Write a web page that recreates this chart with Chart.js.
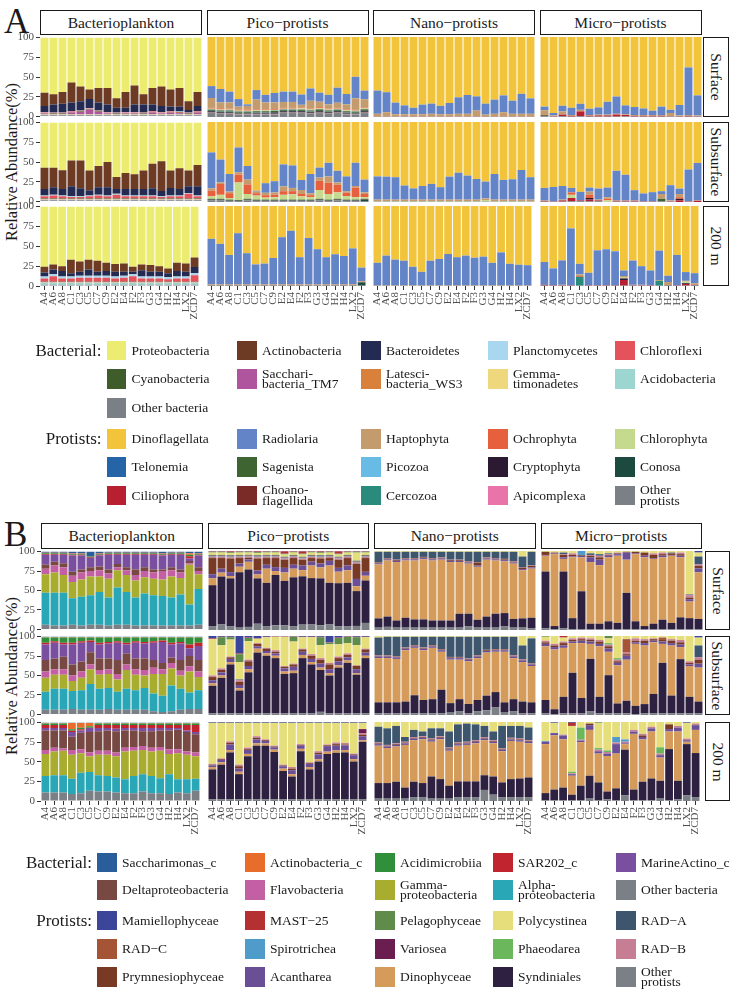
<!DOCTYPE html>
<html>
<head>
<meta charset="utf-8">
<script src="https://cdn.jsdelivr.net/npm/chart.js@4.4.1/dist/chart.umd.min.js"></script>
<style>
  body { margin: 0; background: #fff; }
  #fig { position: relative; width: 731px; height: 991px; overflow: hidden;
         font-family: "Liberation Serif", "DejaVu Serif", serif; color: #1a1a1a; }
  .strip { position: absolute; box-sizing: border-box; border: 1.6px solid #1a1a1a; background: #fff;
           display: flex; align-items: center; justify-content: center; font-size: 15.5px; white-space: nowrap; }
  .strip.r span { display: inline-block; transform: rotate(90deg); }
  .tag { position: absolute; font-size: 35px; line-height: 1; }
  .ytitle { position: absolute; font-size: 16.5px; white-space: nowrap; transform: translate(-50%, -50%) rotate(-90deg); }
  .sw { position: absolute; width: 19.5px; height: 19.5px; }
  .lab { position: absolute; height: 30px; display: flex; align-items: center; font-size: 13.5px; white-space: pre; }
  .lab.two { line-height: 10.5px; }
  .gtitle { position: absolute; height: 30px; display: flex; align-items: center; justify-content: flex-end; font-size: 17px; }
</style>
</head>
<body>
<div id="fig"></div>
<script>
const samples = ['A4','A6','A8','C1','C3','C5','C7','C9','E2','E4','F2','F3','G3','G4','H2','H4','LX2','ZCD7'];
const stripCols = ['Bacterioplankton', 'Pico\u2212protists', 'Nano\u2212protists', 'Micro\u2212protists'];
const stripRows = ['Surface', 'Subsurface', '200 m'];
const yTicks = [0, 25, 50, 75, 100];

// ---------- Panel A : phylum level ----------
const orderABac = ['Proteobacteria','Actinobacteria','Bacteroidetes','Planctomycetes','Chloroflexi','Cyanobacteria',
  'Saccharibacteria_TM7','Latescibacteria_WS3','Gemmatimonadetes','Acidobacteria','Other bacteria'];
const orderAPro = ['Dinoflagellata','Radiolaria','Haptophyta','Ochrophyta','Chlorophyta','Telonemia','Sagenista',
  'Picozoa','Cryptophyta','Conosa','Ciliophora','Choanoflagellida','Cercozoa','Apicomplexa','Other protists'];

const aBacSurface = {
  'Proteobacteria':       [70,72,69,57,62,66,64,64,77,69,61,72,64,62,66,64,81,69],
  'Actinobacteria':       [17,13,15,25.5,19,12,18.5,21,12,20,24,13,21,25,21.5,24,11,18],
  'Bacteroidetes':        [7.5,10,11,11,11.5,11.5,10,9.5,6,5.5,9.5,10,8.5,7.5,6,6,3,6.5],
  'Planctomycetes':       [0.5,0.5,0.5,0.5,0.5,0.5,0.5,0.5,0.5,0.5,0.5,0.5,0.5,0.5,0.5,0.5,0.5,0.5],
  'Chloroflexi':          [1,1,1,1,1,1,1,1,1,1,1,1,1,1,1,1,1,1],
  'Cyanobacteria':        [0.5,0.5,0.5,0.5,0.5,0.5,0.5,0.5,0.5,0.5,0.5,0.5,0.5,0.5,0.5,0.5,0.5,0.5],
  'Saccharibacteria_TM7': [1,0.5,0.5,2,3,6,3,1,0.5,1,1,0.5,2,1,2,1.5,0.5,2],
  'Latescibacteria_WS3':  [0.3,0.3,0.3,0.3,0.3,0.3,0.3,0.3,0.3,0.3,0.3,0.3,0.3,0.3,0.3,0.3,0.3,0.3],
  'Gemmatimonadetes':     [0.3,0.3,0.3,0.3,0.3,0.3,0.3,0.3,0.3,0.3,0.3,0.3,0.3,0.3,0.3,0.3,0.3,0.3],
  'Acidobacteria':        [0.5,0.5,0.5,0.5,0.5,0.5,0.5,0.5,0.5,0.5,0.5,0.5,0.5,0.5,0.5,0.5,0.5,0.5],
  'Other bacteria':       [1.5,1.5,1.5,1.5,1.5,1.5,1.5,1.5,1.5,1.5,1.5,1.5,1.5,1.5,1.5,1.5,1.5,1.5]
};
const aBacSubsurface = {
  'Proteobacteria':       [57.5,57.5,60.5,48,48,61,55,50,69,64,65.5,61,52,49,61,58,61,54],
  'Actinobacteria':       [27,24.5,24,33,35,25,27,32,15.5,20.5,19,23.5,31,38,22,26.5,20,27],
  'Bacteroidetes':        [8,9.5,8,12.5,10,6.5,9.5,10.5,6,8,8,8,9,6.5,9.5,8,8.5,11.5],
  'Planctomycetes':       [1,1,1,1,1,1,1,1,1,1,1,1,1,1,1,1,1,1],
  'Chloroflexi':          [3,4,3,2,2,3,4,3,5,3,3,3,3,2,3,3,6,3],
  'Cyanobacteria':        [0.5,0.5,0.5,0.5,0.5,0.5,0.5,0.5,0.5,0.5,0.5,0.5,0.5,0.5,0.5,0.5,0.5,0.5],
  'Saccharibacteria_TM7': [0.5,0.5,0.5,0.5,0.5,0.5,0.5,0.5,0.5,0.5,0.5,0.5,0.5,0.5,0.5,0.5,0.5,0.5],
  'Latescibacteria_WS3':  [0.3,0.3,0.3,0.3,0.3,0.3,0.3,0.3,0.3,0.3,0.3,0.3,0.3,0.3,0.3,0.3,0.3,0.3],
  'Gemmatimonadetes':     [0.3,0.3,0.3,0.3,0.3,0.3,0.3,0.3,0.3,0.3,0.3,0.3,0.3,0.3,0.3,0.3,0.3,0.3],
  'Acidobacteria':        [0.5,0.5,0.5,0.5,0.5,0.5,0.5,0.5,0.5,0.5,0.5,0.5,0.5,0.5,0.5,0.5,0.5,0.5],
  'Other bacteria':       [1.5,1.5,1.5,1.5,1.5,1.5,1.5,1.5,1.5,1.5,1.5,1.5,1.5,1.5,1.5,1.5,1.5,1.5]
};
const aBac200 = {
  'Proteobacteria':       [75.6,73,75,67,69,67,68,70.5,72.3,71.5,75.6,73,73.5,75,78,70.5,71.5,64],
  'Actinobacteria':       [7.5,6,6,17,13,12,14,10.5,9.7,10.5,6.4,7,8.5,7,6,10.5,10.5,12],
  'Bacteroidetes':        [5,6,7,4,5,8,5,6,6,5,3,8,6,6,5,7,6,8],
  'Planctomycetes':       [2.5,2.5,2.5,2.5,2.5,2.5,2.5,2.5,2.5,2.5,2.5,2.5,2.5,2.5,2.5,2.5,2.5,2.5],
  'Chloroflexi':          [4,7,4,4,5,5,5,5,4,5,7,4,4,4,3,4,4,8],
  'Cyanobacteria':        [0.3,0.3,0.3,0.3,0.3,0.3,0.3,0.3,0.3,0.3,0.3,0.3,0.3,0.3,0.3,0.3,0.3,0.3],
  'Saccharibacteria_TM7': [0.3,0.3,0.3,0.3,0.3,0.3,0.3,0.3,0.3,0.3,0.3,0.3,0.3,0.3,0.3,0.3,0.3,0.3],
  'Latescibacteria_WS3':  [0.3,0.3,0.3,0.3,0.3,0.3,0.3,0.3,0.3,0.3,0.3,0.3,0.3,0.3,0.3,0.3,0.3,0.3],
  'Gemmatimonadetes':     [0.5,0.5,0.5,0.5,0.5,0.5,0.5,0.5,0.5,0.5,0.5,0.5,0.5,0.5,0.5,0.5,0.5,0.5],
  'Acidobacteria':        [2.5,2.5,2.5,2.5,2.5,2.5,2.5,2.5,2.5,2.5,2.5,2.5,2.5,2.5,2.5,2.5,2.5,2.5],
  'Other bacteria':       [1.5,1.5,1.5,1.5,1.5,1.5,1.5,1.5,1.5,1.5,1.5,1.5,1.5,1.5,1.5,1.5,1.5,1.5]
};

const aPicoSurface = {
  'Dinoflagellata':   [62,66,69,78,85,67,73,71,69,69,73,65,71,73,64,72,50,68],
  'Radiolaria':       [15,17,13.5,9.5,2,12,9.5,12,13,13,13,15.5,11.5,12,19,13,27,11],
  'Haptophyta':       [12.5,7.5,8,4,4.5,12.5,9,8.5,7.5,7.5,3.5,10,7,5.5,6.5,6.5,14.5,10.5],
  'Ochrophyta':       [1,1.5,1,1,1.5,1,1,1,1,1,1,1,1.5,1,1,1,1,1],
  'Chlorophyta':      [1,1,1,1,1,1,1,1,1,1,1.5,1,1,1,1,1,1,1],
  'Telonemia':        [0.3,0.3,0.3,0.3,0.3,0.3,0.3,0.3,0.3,0.3,0.3,0.3,0.3,0.3,0.3,0.3,0.3,0.3],
  'Sagenista':        [1.5,1.5,1.5,1.5,1.5,1.5,1.5,1.5,1.5,1.5,1.5,1.5,2,1.5,1.5,1.5,1.5,2],
  'Picozoa':          [0.3,0.3,0.3,0.3,0.3,0.3,0.3,0.3,0.3,0.3,0.3,0.3,0.3,0.3,0.3,0.3,0.3,0.3],
  'Cryptophyta':      [1,1,1,0.5,0.5,1,1,1.5,1,1,1,1,1,1,1,1,0.5,1],
  'Conosa':           [0.5,0.5,0.5,0.5,0.5,0.5,0.5,0.5,0.5,0.5,0.5,0.5,0.5,0.5,0.5,0.5,0.5,0.5],
  'Ciliophora':       [0.3,0.3,0.3,0.3,0.3,0.3,0.3,0.3,0.3,0.3,0.3,0.3,0.3,0.3,0.3,0.3,0.3,0.3],
  'Choanoflagellida': [0.2,0.2,0.2,0.2,0.2,0.2,0.2,0.2,0.2,0.2,0.2,0.2,0.2,0.2,0.2,0.2,0.2,0.2],
  'Cercozoa':         [0.2,0.2,0.2,0.2,0.2,0.2,0.2,0.2,0.2,0.2,0.2,0.2,0.2,0.2,0.2,0.2,0.2,0.2],
  'Apicomplexa':      [0.2,0.2,0.2,0.2,0.2,0.2,0.2,0.2,0.2,0.2,0.2,0.2,0.2,0.2,0.2,0.2,0.2,0.2],
  'Other protists':   [5,4,4,3,3,3,3,3,5,5,5,4,5,4,5,3,3,5]
};
const aPicoSubsurface = {
  'Dinoflagellata':   [38,47,65,32,55,86,76.5,74,53,54,72.5,65,57,51,61,68,51,72],
  'Radiolaria':       [45,28.5,22,31,17,1,12,14,27.5,28,12.5,24,12.5,17,14.5,18.5,29,16],
  'Haptophyta':       [3,2,2,3,6,2,3,3,6,4,5,2.5,4,8,3,2,2,2],
  'Ochrophyta':       [7,13.5,6,10,12,3,3,3,4.5,4,3,2.5,11.5,14,9.5,4,12,4],
  'Chlorophyta':      [3,5,2,22,6,5,2.5,3,6,6.5,4,3,11,7,8,4.5,3,2],
  'Sagenista':        [1,1,1,1,1,1,1,1,1,1,1,1,1,1,1,1,1,1],
  'Cryptophyta':      [0.5,0.5,0.5,0.5,0.5,0.5,0.5,0.5,0.5,0.5,0.5,0.5,0.5,0.5,0.5,0.5,0.5,0.5],
  'Conosa':           [0.5,0.5,0.5,0.5,0.5,0.5,0.5,0.5,0.5,0.5,0.5,0.5,0.5,0.5,0.5,0.5,0.5,2],
  'Other protists':   [2,2,1,0.5,2,1,1,1,1,1,1,1,2,1,2,1,1,0.5]
};
const aPico200 = {
  'Dinoflagellata':   [41,47.3,61.2,34,59,73,72,65,39,31,64,40,54,64,60.3,62.5,53,77],
  'Radiolaria':       [57,50.7,36.8,64,39,25,26,33,59,67,34,58,44,34,37.7,35.5,45,17],
  'Haptophyta':       [0.5,0.5,0.5,0.5,0.5,0.5,0.5,0.5,0.5,0.5,0.5,0.5,0.5,0.5,0.5,0.5,0.5,0.5],
  'Ochrophyta':       [0.5,0.5,0.5,0.5,0.5,0.5,0.5,0.5,0.5,0.5,0.5,0.5,0.5,0.5,0.5,0.5,0.5,0.5],
  'Sagenista':        [0.5,0.5,0.5,0.5,0.5,0.5,0.5,0.5,0.5,0.5,0.5,0.5,0.5,0.5,0.5,0.5,0.5,0.5],
  'Conosa':           [0,0,0,0,0,0,0,0,0,0,0,0,0,0,0,0,0,4],
  'Other protists':   [0.5,0.5,0.5,0.5,0.5,0.5,0.5,0.5,0.5,0.5,0.5,0.5,0.5,0.5,0.5,0.5,0.5,0.5]
};

const aNanoSurface = {
  'Dinoflagellata':   [67,69,82,85.4,88.3,84.6,83.3,86,82.5,75.4,72.5,74.2,83.3,78.3,73,79.6,71,76.7],
  'Radiolaria':       [29,25,14.5,11,8,12,12.7,10.5,14,20.6,23.5,17.8,13.7,17.7,21,16.4,25,19.3],
  'Haptophyta':       [3,5,2.5,2.5,2.5,2.5,3,2.5,2.5,3,3,7,2,3,5,3,3,3],
  'Ochrophyta':       [0.5,0.5,0.5,0.5,0.5,0.5,0.5,0.5,0.5,0.5,0.5,0.5,0.5,0.5,0.5,0.5,0.5,0.5],
  'Other protists':   [0.5,0.5,0.5,0.5,0.5,0.5,0.5,0.5,0.5,0.5,0.5,0.5,0.5,0.5,0.5,0.5,0.5,0.5]
};
const aNanoSubsurface = {
  'Dinoflagellata':   [68,68.3,69,79.4,83,80,77.4,81.5,68.3,63.4,67,71.2,74.5,65,72.4,71.6,60,69],
  'Radiolaria':       [29,28.7,28,17.6,14,17,19.6,15.5,28.7,33.6,30,25.8,21,32,24.6,25.4,37,28],
  'Haptophyta':       [2,2,2,2,2,2,2,2,2,2,2,2,2,2,2,2,2,2],
  'Chlorophyta':      [0.5,0.5,0.5,0.5,0.5,0.5,0.5,0.5,0.5,0.5,0.5,0.5,2,0.5,0.5,0.5,0.5,0.5],
  'Other protists':   [0.5,0.5,0.5,0.5,0.5,0.5,0.5,0.5,0.5,0.5,0.5,0.5,0.5,0.5,0.5,0.5,0.5,0.5]
};
const aNano200 = {
  'Dinoflagellata':   [71,62,67,68.4,76,82.3,68.4,66.2,60,64,62,64.6,63.3,71,58,72.2,73.4,74],
  'Radiolaria':       [28,37,32,30.6,23,16.7,30.6,32.8,39,35,37,34.4,35.7,28,41,26.8,25.6,25],
  'Haptophyta':       [0.5,0.5,0.5,0.5,0.5,0.5,0.5,0.5,0.5,0.5,0.5,0.5,0.5,0.5,0.5,0.5,0.5,0.5],
  'Other protists':   [0.5,0.5,0.5,0.5,0.5,0.5,0.5,0.5,0.5,0.5,0.5,0.5,0.5,0.5,0.5,0.5,0.5,0.5]
};

const aMicroSurface = {
  'Dinoflagellata':   [87,95,86,88.4,83.5,89.7,88,81,74.4,85.5,87.6,89.3,92.1,87,91,85,38,73],
  'Radiolaria':       [4.5,3,7,9,7.5,7.8,9,16,21.6,11,10,8.2,5.4,10.5,4,13,59.5,25],
  'Haptophyta':       [6,1,4,1,2,1,1,1,1,1,1,1,1,1,4,1,1,1],
  'Sagenista':        [1,0,0,0,0,0,0,0,0,0,0,0,0,0,0,0,0,0],
  'Ciliophora':       [0.5,0.5,2,1,6,1,1.5,1.5,2.5,1.5,1,1,1,1,0.5,0.5,1,0.5],
  'Other protists':   [1,0.5,1,0.5,1,0.5,0.5,0.5,0.5,1,0.5,0.5,0.5,0.5,0.5,0.5,0.5,0.5]
};
const aMicroSubsurface = {
  'Dinoflagellata':   [82.4,81.2,80,82.4,87.3,82,83.2,82,61,66,85.2,89.3,87.7,86.5,79,83.2,59.4,51.2],
  'Radiolaria':       [15.6,17.8,17,5.6,10.7,5,13.8,12,37,32,12.8,9.7,11.3,3.5,19,6.8,39.6,46.8],
  'Haptophyta':       [0.5,0,1,0,0,4,1,2,0.5,0.5,0.5,0,0,6,1,4,0,0.5],
  'Ochrophyta':       [0,0,0,3,0,4,0,2,0,0,0,0,0,0,0,2,0,0],
  'Chlorophyta':      [0,0,0,4,0,0,0,2,0,0,0,0,0,0,0,0,0,0],
  'Sagenista':        [0,0,0,0,0,0,0,0,0,0,0,0,0,3,0,0,0,0],
  'Cryptophyta':      [0,0,0,0,0,2,0,0,0,0,0,0,0,0,0,2,0,0],
  'Ciliophora':       [1,0.5,1.5,4,1,2,1,0,1,1,1,0.5,0.5,0,0.5,2,0.5,1.5],
  'Other protists':   [0.5,0.5,0.5,1,1,1,1,0,0.5,0.5,0.5,0.5,0.5,1,0.5,0,0.5,0]
};
const aMicro200 = {
  'Dinoflagellata':   [70,78,68,28,72.3,83.5,55.4,54.1,56.6,80.6,68.2,75.2,80.6,55.8,87.2,61.2,82.6,84],
  'Radiolaria':       [28.5,21,30.5,71,13.2,15.5,43.6,44.9,42.4,6.9,30.3,23.3,18.4,36.7,7.8,37.8,10.9,12.5],
  'Haptophyta':       [0,0,0.5,0,2,0,0,0,0,2,0.5,0.5,0,1,4,0,1,2],
  'Ochrophyta':       [0,0,0,0,1,0,0,0,0,0,0,0,0,0,0,0,0,0],
  'Chlorophyta':      [0,0,0,0,0,0,0,0,0,1,0,0,0,0,0,0,2,0],
  'Cryptophyta':      [0,0,0,0,0,0,0,0,0,2,0,0,0,0,0,0,1,0],
  'Ciliophora':       [1,0.5,0.5,0.5,0,0.5,0.5,0.5,0.5,7,0.5,0.5,0.5,0,0,0.5,2,0.5],
  'Cercozoa':         [0,0,0,0,11,0,0,0,0,0,0,0,0,6,0,0,0,0],
  'Other protists':   [0.5,0.5,0.5,0.5,0.5,0.5,0.5,0.5,0.5,0.5,0.5,0.5,0.5,0.5,1,0.5,0.5,1]
};

// ---------- Panel B : class level ----------
const orderBBac = ['Saccharimonas_c','Actinobacteria_c','Acidimicrobiia','SAR202_c','MarineActino_c',
  'Deltaproteobacteria','Flavobacteria','Gammaproteobacteria','Alphaproteobacteria','Other bacteria'];
const orderBPro = ['Mamiellophyceae','MAST-25','Pelagophyceae','Polycystinea','RAD-A','RAD-C','Spirotrichea',
  'Variosea','Phaeodarea','RAD-B','Prymnesiophyceae','Acantharea','Dinophyceae','Syndiniales','Other protists'];

const bBacSurface = {
  'Saccharimonas_c':     [1.5,1.5,1.5,2.5,2.5,5.5,2.5,1.5,1.5,1.5,1.5,1.5,1.5,2.5,1.5,1.5,2,2.5],
  'Actinobacteria_c':    [0.5,0.5,0.5,0.5,0.5,0.5,0.5,0.5,0.5,0.5,0.5,0.5,0.5,0.5,0.5,0.5,2,0.5],
  'Acidimicrobiia':      [1,1,1,1,1,1,1,1,1,1,1,1,1,1,1,1,2,1],
  'SAR202_c':            [1,1,1,1,1,1,1,1,1,1,1,1,1,1,1,1,3,1],
  'MarineActino_c':      [13,9,11,21,18,12,14,19,12,16,19,16,19,18,16,19,3,15],
  'Deltaproteobacteria': [5,5,5,5,4,5,5,5,4,4,7,5,4,2,4,4,3,5],
  'Flavobacteria':       [7,9,10,8,9,7,8,7,4,6,7,8,8,11,8,7,2,4],
  'Gammaproteobacteria': [24,26,23,21,22,24,20,24,22,22,22,21,21,21,27,21,51,19],
  'Alphaproteobacteria': [41,42,42,34,37,38,42,36,48,42,36,41,39,38,36,40,27,46],
  'Other bacteria':      [6,5,5,6,5,6,6,5,6,6,5,5,5,5,5,5,5,6]
};
const bBacSubsurface = {
  'Saccharimonas_c':     [0.5,0.5,0.5,0.5,0.5,0.5,0.5,0.5,0.5,0.5,0.5,0.5,0.5,0.5,0.5,0.5,0.5,0.5],
  'Actinobacteria_c':    [0.5,0.5,0.5,0.5,0.5,0.5,0.5,0.5,0.5,0.5,0.5,0.5,0.5,0.5,0.5,0.5,0.5,0.5],
  'Acidimicrobiia':      [7,5,7,7,5,4,7,6,5,7,5,6,5,4,7,6,9,7],
  'SAR202_c':            [2,2,2,2,2,2,2,2,2,2,2,2,2,2,2,2,5,4],
  'MarineActino_c':      [20,20,16,26,24,13,18,19,22,12,20,19,22,27,17,21,10,18],
  'Deltaproteobacteria': [15,14,16,14,13,16,15,14,18,14,14,15,10,8,7,14,13,15],
  'Flavobacteria':       [8,7,7,7,8,6,6,6,7,7,7,7,8,6,7,6,7,7],
  'Gammaproteobacteria': [18,18,18,13,16,19,18,18,16,24,20,16,25,28,22,17,27,17],
  'Alphaproteobacteria': [23,27,27,23,25,33,27,27,23,27,25,28,23,21,33,27,21,24],
  'Other bacteria':      [6,6,6,7,6,6,6,7,6,6,6,6,4,3,4,6,7,7]
};
const bBac200 = {
  'Saccharimonas_c':     [0.5,0.5,0.5,0.5,0.5,0.5,0.5,0.5,0.5,0.5,0.5,0.5,0.5,0.5,0.5,0.5,0.5,0.5],
  'Actinobacteria_c':    [0.5,0.5,0.5,8,6,4,0.5,0.5,0.5,0.5,0.5,0.5,0.5,0.5,0.5,0.5,0.5,0.5],
  'Acidimicrobiia':      [2,2,2,2,2,2,2,2,2,2,2,2,2,2,2,2,2,2],
  'SAR202_c':            [4,4,4,1.5,1.5,0.5,4,4,5,4,4,4,4,4,4,4,7,9],
  'MarineActino_c':      [3,3,3,6,3,5,4,3,3,3,3,4,4,3,3,2,2,3],
  'Deltaproteobacteria': [25,22,23,17,21,26,25,26,27,22,21,19,21,21,24,25,25,23],
  'Flavobacteria':       [5,5,3,6,5,5,5,5,5,5,5,5,5,5,6,5,4,5],
  'Gammaproteobacteria': [28,30,31,30.5,25,20,26,27,27,35.3,32,31,31,35,26,33.3,31.3,28.5],
  'Alphaproteobacteria': [21,22,22,19.5,26,24,21,20,19,17.7,22,22,22,19,25,16.7,17.7,15.5],
  'Other bacteria':      [11,11,11,9,10,13,12,12,11,10,10,12,10,10,9,11,10,13]
};

const bPicoSurface = {
  'Mamiellophyceae':  [0.5,0.5,0.5,0.5,0.5,0.5,0.5,0.5,0.5,0.5,0.5,0.5,0.5,0.5,0.5,0.5,0.5,0.5],
  'MAST-25':          [0.5,0.5,1,0.5,0.5,1,0.5,0.5,3,0.5,3,0.5,1,0.5,3,0.5,0.5,0.5],
  'Pelagophyceae':    [1,1,1,1,1,1,1,1,1,1,1,1,1,1,1,1,1,1],
  'Polycystinea':     [3,3,3,3,3,3,3,3,3,3,3,3,3,3,3,3,10,3],
  'RAD-A':            [1,1,1,1,1,1,1,1,1,1,1,1,1,1,1,1,1,1],
  'RAD-C':            [0.5,0.5,0.5,0.5,0.5,0.5,0.5,0.5,0.5,0.5,0.5,0.5,0.5,0.5,0.5,0.5,0.5,0.5],
  'Spirotrichea':     [0.5,0.5,0.5,0.5,0.5,0.5,0.5,0.5,0.5,0.5,0.5,0.5,0.5,0.5,0.5,0.5,0.5,0.5],
  'Variosea':         [0.3,0.3,0.3,0.3,0.3,0.3,0.3,0.3,0.3,0.3,0.3,0.3,0.3,0.3,0.3,0.3,0.3,0.3],
  'Phaeodarea':       [0.2,0.2,0.2,0.2,0.2,0.2,0.2,0.2,0.2,0.2,0.2,0.2,0.2,0.2,0.2,0.2,0.2,0.2],
  'RAD-B':            [1.5,1.5,1.5,1.5,1.5,1.5,1.5,1.5,1.5,1.5,1.5,1.5,1.5,1.5,1.5,1.5,1.5,1.5],
  'Prymnesiophyceae': [20.5,13.5,17.5,7,2,15.5,8.5,11.5,10.5,8.5,7.5,4.5,6.5,3.5,10.5,9.5,18.5,17.5],
  'Acantharea':       [5,5,5,4,3,5,5,5,6,5,6,5,5,6,5,6,9,5],
  'Dinophyceae':      [9,5,3,7,10,5,18,5,11,11,8,16,14,22,15,16,6,6],
  'Syndiniales':      [52,61,61,70.5,74.5,58,55,64,58,62,63,59,60,53,56,55,43,54],
  'Other protists':   [5,7,5,3,4,8,5,6,6,5,7,7,6,7,5,5,5,9]
};
const bPicoSubsurface = {
  'Mamiellophyceae':  [3,1,1,22,2,3,1,0.5,0.5,0.5,1,1,1,8,2,0.5,1,1],
  'MAST-25':          [1,0.5,0.5,1,0.5,0.5,0.5,0.5,0.5,0.5,0.5,0.5,0.5,0.5,0.5,0.5,0.5,0.5],
  'Pelagophyceae':    [0,10,3,10,4,0,0,0,0,6,0,0,10,2,8,8,10,0],
  'Polycystinea':     [46,29.5,21.5,22,23.5,5.5,13.5,17,37,28,14.5,21.5,16.5,23.5,15.5,13,25.5,14.5],
  'RAD-A':            [0,0,0,1,0,0,0,0,0,0,0,0,0,0,0,0,0,0],
  'RAD-B':            [2,2,1,2,2,1,1,2,1,1,1,2,2,2,2,2,1,1],
  'Prymnesiophyceae': [4,3,2,4,6,3,3,2,2,3,3,4,5,6,4,3,4,4],
  'Acantharea':       [4,4,4,4,4,3,3,3,4,5,4,4,5,5,5,4,5,4],
  'Dinophyceae':      [3,3,3,3,4,5,3,3,3,3,4,3,3,3,3,3,2,3],
  'Syndiniales':      [35,45,62,29,52,77,73,70,50,51,70,62,53,48,58,64,49,70],
  'Other protists':   [2,2,2,2,2,2,2,2,2,2,2,2,4,2,2,2,2,2]
};
const bPico200 = {
  'Mamiellophyceae':  [1,1,1,1,1,1,1,1,1,1,1,1,1,1,1,1,1,1],
  'Polycystinea':     [52,45,23.5,53,31.4,17,21,29,53,56,27,50,36,27.5,25,25.5,39,8],
  'Variosea':         [0,0,0,0,0,0,0,0,0,0,0,0,0,0,0,0,0,5],
  'RAD-B':            [1,1,2,2,2,2,1,1,1,2,1,1,2,1,2,2,1,2],
  'Prymnesiophyceae': [1,1,2,3,1,2,1,1,1,2,1,1,2,1,2,1,1,2],
  'Acantharea':       [2,3,7,4,5,5,3,3,3,5,4,4,6,7,6,6,5,5],
  'Dinophyceae':      [3,3,3,3,3,3,3,3,3,3,3,3,3,3,3,3,3,2],
  'Syndiniales':      [38,44,59.5,32,54.6,68,68,60,36,29,61,38,48,57.5,59,59.5,48,73],
  'Other protists':   [2,2,2,2,2,2,2,2,2,2,2,2,2,2,2,2,2,2]
};

const bNanoSurface = {
  'Polycystinea':     [1,1,1,1,1,1,1,1,1,1,1,1,1,1,1,1,7,1],
  'RAD-A':            [13,8,10,8,8,6.5,8,7,10,10,12,13,7,8,9,12,13.4,17.3],
  'RAD-B':            [0.5,0.5,0.5,0.5,0.5,0.5,0.5,0.5,0.5,0.5,0.5,0.5,0.5,0.5,0.5,0.5,0.5,0.5],
  'Prymnesiophyceae': [1,1,1,1,1,1,1,1,1,1,1,4,1,1,1,1,2,2],
  'Acantharea':       [1.5,1.5,1.5,1.5,1.5,1.5,1.5,1.5,1.5,1.5,1.5,1.5,1.5,1.5,1.5,1.5,1.5,1.5],
  'Dinophyceae':      [68.3,71,74,72.5,74.6,76.1,76,77,74,65.4,63.4,67,72,67.4,65.6,70,60.9,62.2],
  'Syndiniales':      [11.7,13,9,12.5,10.4,10.4,9,9,9,17.6,15.6,10,14,17.6,16.4,11,11.7,13.5],
  'Other protists':   [3,4,3,3,3,3,3,3,3,3,5,3,3,3,5,3,3,2]
};
const bNanoSubsurface = {
  'Polycystinea':     [2,1,1,1,1,1,1,1,1,1,1,1,1,1,1,1,12,3],
  'RAD-A':            [22.5,23.5,24.5,13.5,10.5,13.5,10.5,15.5,25.5,25.5,27.5,23.5,16.5,15.5,15.5,23.5,17.5,31.5],
  'RAD-B':            [0.5,0.5,0.5,0.5,0.5,0.5,0.5,0.5,0.5,0.5,0.5,0.5,0.5,0.5,0.5,0.5,0.5,0.5],
  'Prymnesiophyceae': [1,1,1,1,1,1,1,1,1,1,1,1,1,1,1,1,1,1],
  'Acantharea':       [2,2,2,2,2,2,2,2,2,2,2,2,2,2,2,2,2,2],
  'Dinophyceae':      [56,56,55,65,60,63,65,48,55,50,54,53,54.5,51,64,52,50,46],
  'Syndiniales':      [14,14,14,15,23,17,18,30,12,15,12,14,18.5,19,13,15,15,14],
  'Other protists':   [2,2,2,2,2,2,2,2,3,5,2,5,6,10,3,5,2,2]
};
const bNano200 = {
  'Polycystinea':     [6,8,5,19,10,12,8,8,12,3,2,3,5,12,5,5,5,7],
  'RAD-A':            [20,21,22,6,9,6,13,10,20.4,23,23,20,14,11,28,15,16,16],
  'RAD-B':            [1,1,1,1,1,1,1,1,1,1,1,1,1,1,1,1,1,1],
  'Prymnesiophyceae': [1,1,1,1,1,1,1,1,1,1,1,1,1,1,1,1,1,1],
  'Acantharea':       [2,2,2,2,2,2,2,2,2,2,2,2,2,2,2,2,2,2],
  'Dinophyceae':      [47.3,44.3,44.6,54,52.6,55.3,44,50.3,44.2,45.2,46.2,48.2,44.4,42,39.5,48.3,46.5,43.2],
  'Syndiniales':      [19.7,19.7,21.4,14,19.4,17.7,28,24.7,16.4,19.8,19.8,19.8,18.6,23,18.5,22.7,23.5,24.8],
  'Other protists':   [3,3,3,3,5,5,3,3,3,5,5,5,14,8,5,5,5,5]
};

const bMicroSurface = {
  'Mamiellophyceae':  [0,0,0,0,0,0,0,0,0,0,0,0,0,0,0,0,0,2],
  'Polycystinea':     [1,2,2,3,0,3,4,3,2,1,1,2,3,2,2,2,55,5],
  'RAD-A':            [0,0,2,0,0,2,2,1,0,0,0,0,0,0,1,0,1,10],
  'Spirotrichea':     [0,0,0,0,5,0,0,0,0,0,0,0,0,0,0,0,0,0],
  'RAD-B':            [0,0,1,2,0,1,2,1,1,0,0,0,2,2,0,2,3,2],
  'Prymnesiophyceae': [4,1,3,2,1,2,3,1,1,1,2,4,4,2,2,2,2,3],
  'Acantharea':       [1,1,2,1,2,6,7,2,2,9,1,2,1,2,1,2,3,5],
  'Dinophyceae':      [20,91,16,77,43,78,74,81,85,42,85,87,82,79,85,76,21,59],
  'Syndiniales':      [72,4,72,14,48,7,7,10,8,46,10,4,7,12,8,15,14,13],
  'Other protists':   [2,1,2,1,1,1,1,1,1,1,1,1,1,1,1,1,1,1]
};
const bMicroSubsurface = {
  'Mamiellophyceae':  [0,0,0,0,0,0,0,0,0,0,0,0,0,0,0,0,0,2],
  'MAST-25':          [0,0,2,0,0,0,0,0,0,0,0,0,0,0,0,0,0,0],
  'Pelagophyceae':    [1,0,0,0,0,0,0,3,0,0,0,0,0,0,0,0,0,0],
  'Polycystinea':     [5,10,5,3,2,3,5,6,28,4,3,4,3,2,4,5,32,10],
  'RAD-A':            [0,0,0,0,0,0,0,0,0,0,0,0,0,0,0,0,0,15],
  'RAD-C':            [0,0,0,0,0,0,0,0,0,17,0,0,0,3,0,0,0,0],
  'Phaeodarea':       [0,0,0,0,0,0,0,2,2,0,0,0,0,0,0,0,0,0],
  'RAD-B':            [2,2,2,2,2,2,2,2,2,2,3,2,1,0,2,3,2,3],
  'Prymnesiophyceae': [2,2,3,2,2,2,3,3,2,2,2,3,2,2,3,3,2,5],
  'Acantharea':       [3,3,3,2,3,3,3,4,3,5,2,3,2,3,3,3,2,5],
  'Dinophyceae':      [68,75.7,62,37.6,69.5,19,64,29.6,48.4,52,78.4,74.2,65.3,24,63.4,15.3,39,43],
  'Syndiniales':      [17,6.3,21,51.4,19.5,66,21,48.4,12.6,16,10.6,11.8,24.7,64,22.6,68.7,21,15],
  'Other protists':   [2,1,2,2,2,5,2,2,2,2,1,2,2,2,2,2,2,2]
};
const bMicro200 = {
  'Mamiellophyceae':  [0,1,0,1,0,0,0,0,0,0,0,0,0,0,0,0,1,0],
  'MAST-25':          [0,0,0,4,0,0,0,0,0,0,0,0,0,0,0,0,0,0],
  'Pelagophyceae':    [0,0,0,0,0,0,1,0,0,0,0,0,0,0,0,0,0,0],
  'Polycystinea':     [24,13,16,58,7,2,32,36,19,22,10,15,6,32,3,5,20,2],
  'Spirotrichea':     [1,0,0,0,0,0,0,0,7,3,0,0,0,0,0,0,0,0],
  'Phaeodarea':       [0,0,0,2,15,0,2,2,0,0,0,0,0,8,0,0,0,0],
  'RAD-B':            [0,0,1,1,1,0,2,2,2,2,2,2,2,2,0,2,2,2],
  'Prymnesiophyceae': [0,0,0,0,0,2,0,0,0,0,0,2,0,0,6,0,0,0],
  'Acantharea':       [3,3,5,2,2,6,3,3,12,1,3,3,4,3,3,5,2,6],
  'Dinophyceae':      [62,68.5,61,24,54,58,36.5,45,44,7,70.5,53.6,59.5,29.4,22.3,62.4,3,29.3],
  'Syndiniales':      [9,13.5,16,7,18,29,22.5,10,15,58,13.5,23.4,27.5,22.6,64.7,23.6,65,55.7],
  'Other protists':   [1,1,1,1,1,3,1,2,1,7,1,1,1,3,1,2,7,5]
};

// ---------- colours ----------
const colors = {
  'Proteobacteria':'#ECEC70','Actinobacteria':'#6D3B23','Bacteroidetes':'#242B52','Planctomycetes':'#A9D7EF',
  'Chloroflexi':'#E4535B','Cyanobacteria':'#3F5D2A','Saccharibacteria_TM7':'#AF559D','Latescibacteria_WS3':'#D9813B',
  'Gemmatimonadetes':'#EFD77E','Acidobacteria':'#9DD5D1','Other bacteria':'#7B7F86',
  'Dinoflagellata':'#F2C43C','Radiolaria':'#6384C6','Haptophyta':'#C49B6D','Ochrophyta':'#E7603D',
  'Chlorophyta':'#C5DA8F','Telonemia':'#2464A7','Sagenista':'#3E6431','Picozoa':'#68BBE4','Cryptophyta':'#2B1A31',
  'Conosa':'#1D4A3E','Ciliophora':'#B81F31','Choanoflagellida':'#7A2B27','Cercozoa':'#2A8A7C','Apicomplexa':'#E874A9',
  'Other protists':'#7B7F86',
  'Saccharimonas_c':'#2A5E9B','Actinobacteria_c':'#E86C2A','Acidimicrobiia':'#2F8F3B','SAR202_c':'#C1242E',
  'MarineActino_c':'#7B4F9F','Deltaproteobacteria':'#784943','Flavobacteria':'#C35FA3','Gammaproteobacteria':'#A9AD2F',
  'Alphaproteobacteria':'#2AA7B7',
  'Mamiellophyceae':'#3B459A','MAST-25':'#B43032','Pelagophyceae':'#5F8C4B','Polycystinea':'#E6DD7B','RAD-A':'#3D566E',
  'RAD-C':'#A55435','Spirotrichea':'#4F9CCB','Variosea':'#6A1E50','Phaeodarea':'#6AB85B','RAD-B':'#C67E94',
  'Prymnesiophyceae':'#793A25','Acantharea':'#6A4F96','Dinophyceae':'#D59B5B','Syndiniales':'#2E2040'
};
const legendText = {
  'Saccharibacteria_TM7':'Sacchari-\nbacteria_TM7','Latescibacteria_WS3':'Latesci-\nbacteria_WS3',
  'Gemmatimonadetes':'Gemma-\ntimonadetes','Choanoflagellida':'Choano-\nflagellida','Other protists':'Other\nprotists',
  'Gammaproteobacteria':'Gamma-\nproteobacteria','Alphaproteobacteria':'Alpha-\nproteobacteria',
  'MAST-25':'MAST\u221225','RAD-A':'RAD\u2212A','RAD-B':'RAD\u2212B','RAD-C':'RAD\u2212C'
};

// ---------- layout ----------
const panels = [
  { tag: 'A', tagTop: 4, colLeft: [40, 206.5, 373, 539.5], colW: 162, rowTop: [37, 121.5, 206], rowH: 80,
    stripTop: 10, stripH: 25, rStripX: 703, rStripW: 26,
    facets: [[aBacSurface, aPicoSurface, aNanoSurface, aMicroSurface],
             [aBacSubsurface, aPicoSubsurface, aNanoSubsurface, aMicroSubsurface],
             [aBac200, aPico200, aNano200, aMicro200]],
    orderBac: orderABac, orderPro: orderAPro,
    legend: { cols: [106.5, 237, 361, 488, 615], bacRows: [350.7, 379, 408], proRows: [439, 467, 495.7] } },
  { tag: 'B', tagTop: 517, colLeft: [41, 207.5, 374, 540.5], colW: 161.5, rowTop: [551, 636, 722], rowH: 79,
    stripTop: 523, stripH: 26, rStripX: 705, rStripW: 25,
    facets: [[bBacSurface, bPicoSurface, bNanoSurface, bMicroSurface],
             [bBacSubsurface, bPicoSubsurface, bNanoSubsurface, bMicroSubsurface],
             [bBac200, bPico200, bNano200, bMicro200]],
    orderBac: orderBBac, orderPro: orderBPro,
    legend: { cols: [97, 245, 375, 493, 616], bacRows: [862.7, 890], proRows: [920.7, 949, 977] } }
];

const fig = document.getElementById('fig');
const SERIF = '"Liberation Serif", "DejaVu Serif", serif';
const PAD = 8, YW = 38, XH = 46;

function el(cls, css, html) {
  const d = document.createElement('div');
  d.className = cls;
  d.style.cssText = css;
  if (html !== undefined) d.innerHTML = html;
  fig.appendChild(d);
  return d;
}

function makeFacet(p, r, c, data, order) {
  const hasY = c === 0, hasX = r === 2;
  const w = Math.round(PAD * 2 + (hasY ? YW : 0) + p.colW);
  const h = Math.round(PAD * 2 + p.rowH + (hasX ? XH : 0));
  const cv = document.createElement('canvas');
  cv.width = w; cv.height = h;
  cv.style.cssText = `position:absolute;left:${p.colLeft[c] - PAD - (hasY ? YW : 0)}px;top:${p.rowTop[r] - PAD}px;width:${w}px;height:${h}px`;
  fig.appendChild(cv);

  // relative abundance: each sample sums to 100 %
  const totals = samples.map((_, i) => order.reduce((s, k) => s + (data[k] ? data[k][i] : 0), 0));
  const datasets = order.slice().reverse().filter(k => data[k]).map(k => ({
    label: k,
    data: data[k].map((v, i) => v * 100 / totals[i]),
    backgroundColor: colors[k],
    borderWidth: 0,
    barPercentage: 0.88,
    categoryPercentage: 1
  }));

  new Chart(cv, {
    type: 'bar',
    data: { labels: samples, datasets },
    options: {
      responsive: false,
      animation: false,
      layout: { padding: PAD },
      plugins: { legend: { display: false }, tooltip: { enabled: false } },
      scales: {
        x: {
          stacked: true, display: hasX,
          grid: { offset: false, drawOnChartArea: false, tickLength: 4, color: '#333' },
          border: { display: false },
          ticks: { autoSkip: false, maxRotation: 90, minRotation: 90, padding: 2, color: '#4d4d4d',
                   font: { family: SERIF, size: 11 } },
          afterFit: s => { if (hasX) s.height = XH; }
        },
        y: {
          stacked: true, display: hasY, min: 0, max: 100,
          grid: { drawOnChartArea: false, tickLength: 4, color: '#333' },
          border: { display: false },
          afterBuildTicks: s => { s.ticks = yTicks.map(v => ({ value: v })); },
          ticks: { padding: 2, color: '#4d4d4d', font: { family: SERIF, size: 11 } },
          afterFit: s => { if (hasY) s.width = YW; }
        }
      }
    }
  });
}

function drawLegend(p) {
  const L = p.legend;
  const groups = [
    { title: 'Bacterial:', keys: p.orderBac, rows: L.bacRows },
    { title: 'Protists:', keys: p.orderPro, rows: L.proRows }
  ];
  groups.forEach(g => {
    el('gtitle', `left:0;width:${L.cols[0] - 5}px;top:${g.rows[0] - 15}px;`, g.title);
    g.keys.forEach((k, i) => {
      const y = g.rows[Math.floor(i / 5)], x = L.cols[i % 5];
      el('sw', `left:${x}px;top:${y - 9.75}px;background:${colors[k]};`);
      const txt = legendText[k] || k;
      el('lab' + (txt.includes('\n') ? ' two' : ''), `left:${x + 25}px;top:${y - 15}px;`, txt);
    });
  });
}

panels.forEach(p => {
  el('tag', `left:4px;top:${p.tagTop}px;`, p.tag);
  stripCols.forEach((t, c) => {
    el('strip', `left:${p.colLeft[c]}px;top:${p.stripTop}px;width:${p.colW}px;height:${p.stripH}px;`, t);
  });
  stripRows.forEach((t, r) => {
    el('strip r', `left:${p.rStripX}px;top:${p.rowTop[r]}px;width:${p.rStripW}px;height:${p.rowH}px;`, `<span>${t}</span>`);
  });
  const yMid = (p.rowTop[0] + p.rowTop[2] + p.rowH) / 2;
  el('ytitle', `left:12px;top:${yMid}px;`, 'Relative Abundance(%)');
  p.facets.forEach((row, r) => row.forEach((data, c) => {
    makeFacet(p, r, c, data, c === 0 ? p.orderBac : p.orderPro);
  }));
  drawLegend(p);
});
</script>
</body>
</html>
